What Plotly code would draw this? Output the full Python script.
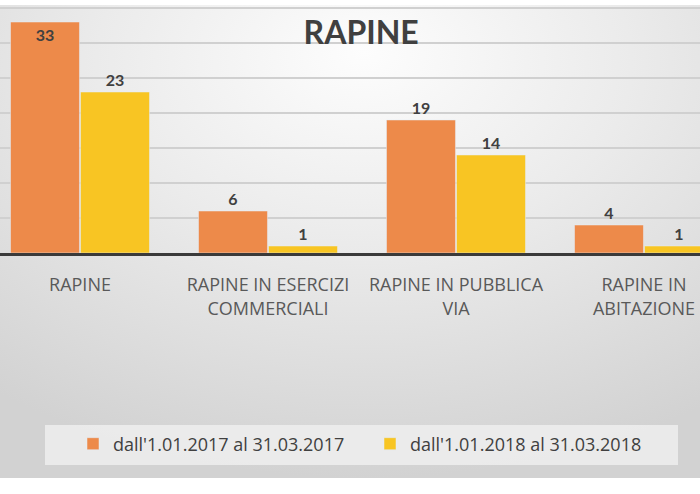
import base64
import plotly.graph_objects as go

# Data
categories = ["RAPINE", "RAPINE IN ESERCIZI<br>COMMERCIALI",
              "RAPINE IN PUBBLICA<br>VIA", "RAPINE IN<br>ABITAZIONE"]
series_names = ["dall'1.01.2017 al 31.03.2017", "dall'1.01.2018 al 31.03.2018"]
values_2017 = [33, 6, 19, 4]
values_2018 = [23, 1, 14, 1]

colors = ["#ED8A4A", "#F8C523"]
font_family = "Lato, 'Open Sans', sans-serif"
label_family = "'Open Sans', Lato, sans-serif"
dark = "#404040"

# Radial grey background like the Excel chart area
bg_svg = """<svg xmlns='http://www.w3.org/2000/svg' width='700' height='473' preserveAspectRatio='none'>
<defs><radialGradient id='g' cx='52%' cy='15%' r='85%' fx='52%' fy='10%'>
<stop offset='0%' stop-color='#fdfdfd'/>
<stop offset='45%' stop-color='#ebebeb'/>
<stop offset='100%' stop-color='#d2d2d2'/>
</radialGradient></defs>
<rect width='700' height='473' fill='url(#g)'/></svg>"""
bg_uri = "data:image/svg+xml;base64," + base64.b64encode(bg_svg.encode()).decode()

label_font = dict(family=font_family, size=16, color=dark, weight="bold")

fig = go.Figure()
fig.add_trace(go.Bar(
    x=categories, y=values_2017, name=series_names[0],
    marker_color=colors[0],
    text=values_2017,
    textposition=["inside", "outside", "outside", "outside"],
    insidetextanchor="end",
    textfont=label_font, insidetextfont=label_font, outsidetextfont=label_font,
    constraintext="none", cliponaxis=False,
))
fig.add_trace(go.Bar(
    x=categories, y=values_2018, name=series_names[1],
    marker_color=colors[1],
    text=values_2018,
    textposition="outside",
    textfont=label_font,
    constraintext="none", cliponaxis=False,
))

top_px, base_px, bottom_px = 5, 253, 478
plot_h = base_px - top_px

fig.update_layout(
    width=700, height=494,
    margin=dict(l=0, r=0, t=top_px, b=494 - base_px),
    paper_bgcolor="white",
    plot_bgcolor="rgba(0,0,0,0)",
    barmode="group", bargap=0.255, bargroupgap=0.015,
    font=dict(family=font_family, color="#595959"),
    title=dict(text="<b>RAPINE</b>", x=0.516, xanchor="center",
               y=1 - 33 / 494, yanchor="middle",
               font=dict(family=font_family, size=32, color=dark)),
    showlegend=True,
    legend=dict(orientation="h", x=73 / 700, xanchor="left",
                y=-(444 - base_px) / plot_h, yanchor="middle",
                bgcolor="rgba(0,0,0,0)",
                font=dict(family=label_family, size=18, color=dark),
                entrywidth=252, entrywidthmode="pixels",
                traceorder="normal"),
    images=[dict(source=bg_uri, xref="paper", yref="paper",
                 x=0, y=1, sizex=1, sizey=(bottom_px - top_px) / plot_h,
                 xanchor="left", yanchor="top", sizing="stretch",
                 layer="below")],
    shapes=[dict(type="rect", xref="paper", yref="paper",
                 x0=45 / 700, x1=678 / 700,
                 y0=-(465 - base_px) / plot_h, y1=-(425 - base_px) / plot_h,
                 fillcolor="rgba(238,238,238,0.85)", line_width=0,
                 layer="below")],
)

fig.update_xaxes(
    range=[-80 / 188, 620 / 188],
    showline=True, linecolor="#3a3a3a", linewidth=2.5,
    showgrid=False, ticks="",
    ticklabelstandoff=14,
    tickfont=dict(family=label_family, size=18, color="#595959"),
)
fig.update_yaxes(
    range=[0, 35.43], dtick=5,
    showgrid=True, gridcolor="#d0d0d0", gridwidth=1.5,
    zeroline=False, showticklabels=False, ticks="",
)

fig.write_html("out.html", config={"displayModeBar": False},
               post_script="document.body.style.margin='0';")
